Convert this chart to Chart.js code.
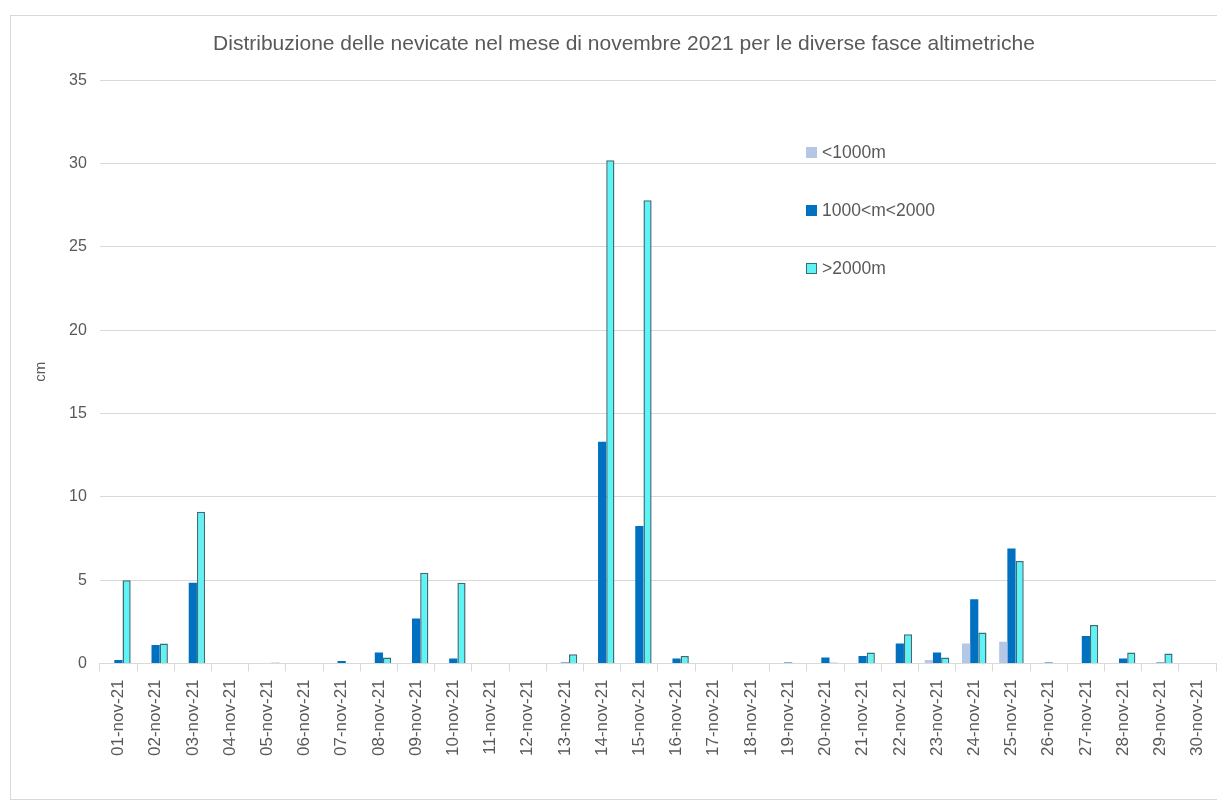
<!DOCTYPE html>
<html>
<head>
<meta charset="utf-8">
<script src="https://cdn.jsdelivr.net/npm/chart.js@4.4.1/dist/chart.umd.min.js"></script>
<style>
  html, body { margin: 0; padding: 0; background: #fff; }
  #frame {
    position: absolute; left: 10px; top: 15px; width: 1215px; height: 785px;
    border: 1px solid #d9d9d9; box-sizing: border-box;
  }
  #wrap { position: absolute; left: 0; top: 0; width: 1215px; height: 785px; }
  #legend {
    position: absolute; left: 795px; top: 126px;
    font-family: "Liberation Sans", Arial, sans-serif; font-size: 17.5px; color: #595959;
  }
  #legend .item { height: 58px; display: flex; align-items: flex-start; }
  #legend .box { width: 11px; height: 11px; margin: 5px 5px 0 0; box-sizing: border-box; }
</style>
</head>
<body>
<div id="frame">
  <div id="wrap"><canvas id="chart"></canvas></div>
  <div id="legend"></div>
</div>
<script>
const titleText = "Distribuzione delle nevicate nel mese di novembre 2021 per le diverse fasce altimetriche";
const days = [
  "01-nov-21", "02-nov-21", "03-nov-21", "04-nov-21", "05-nov-21", "06-nov-21",
  "07-nov-21", "08-nov-21", "09-nov-21", "10-nov-21", "11-nov-21", "12-nov-21",
  "13-nov-21", "14-nov-21", "15-nov-21", "16-nov-21", "17-nov-21", "18-nov-21",
  "19-nov-21", "20-nov-21", "21-nov-21", "22-nov-21", "23-nov-21", "24-nov-21",
  "25-nov-21", "26-nov-21", "27-nov-21", "28-nov-21", "29-nov-21", "30-nov-21"
];
const below1000 = [0, 0, 0, 0, 0, 0, 0, 0, 0, 0, 0, 0, 0, 0, 0, 0, 0, 0, 0, 0,
  0, 0, 0.2, 1.2, 1.3, 0, 0, 0, 0, 0];
const from1000to2000 = [0.2, 1.1, 4.85, 0, 0, 0, 0.15, 0.65, 2.7, 0.3, 0, 0, 0.05, 13.3, 8.25, 0.3, 0, 0, 0.05, 0.35,
  0.45, 1.2, 0.65, 3.85, 6.9, 0.05, 1.65, 0.3, 0.05, 0];
const above2000 = [5.0, 1.2, 9.1, 0, 0.05, 0, 0, 0.35, 5.45, 4.85, 0, 0, 0.55, 30.2, 27.8, 0.45, 0, 0, 0, 0.05,
  0.65, 1.75, 0.35, 1.85, 6.15, 0, 2.3, 0.65, 0.6, 0];
const yTicks = [0, 5, 10, 15, 20, 25, 30, 35];

const font = "'Liberation Sans', Arial, sans-serif";
const textColor = "#595959";

const datasets = [
  { label: "<1000m", data: below1000, backgroundColor: "#b4c7e7", borderColor: "#b4c7e7", borderWidth: 0 },
  { label: "1000<m<2000", data: from1000to2000, backgroundColor: "#0070c0", borderColor: "#0070c0", borderWidth: 0 },
  { label: ">2000m", data: above2000, backgroundColor: "#5ff3f5", borderColor: "#3a6f78", borderWidth: 1.5 }
];

const chart = new Chart(document.getElementById("chart"), {
  type: "bar",
  data: { labels: days, datasets },
  options: {
    responsive: true,
    maintainAspectRatio: false,
    animation: false,
    layout: { padding: { top: 14, right: 6, left: 17, bottom: 37 } },
    datasets: { bar: { categoryPercentage: 0.66, barPercentage: 1.0 } },
    plugins: {
      legend: { display: false },
      tooltip: { enabled: false },
      title: {
        display: true,
        text: titleText,
        color: textColor,
        font: { family: font, size: 21, weight: "normal" },
        padding: { top: 2, bottom: 23 }
      }
    },
    scales: {
      x: {
        grid: { display: true, drawOnChartArea: false, offset: true, color: "#d9d9d9", tickLength: 8 },
        border: { color: "#d9d9d9" },
        ticks: { color: textColor, font: { family: font, size: 17 }, minRotation: 90, maxRotation: 90, padding: 8 }
      },
      y: {
        min: 0,
        max: 35,
        afterBuildTicks: (axis) => { axis.ticks = yTicks.map(v => ({ value: v })); },
        grid: { color: "#d9d9d9", drawTicks: false },
        border: { display: false },
        ticks: { color: textColor, font: { family: font, size: 16 }, padding: 13 },
        title: { display: true, text: "cm", color: textColor, font: { family: font, size: 15 }, padding: { bottom: 6 } }
      }
    }
  }
});

// legend inside the plot, built from the datasets
const legendEl = document.getElementById("legend");
datasets.forEach(ds => {
  const item = document.createElement("div");
  item.className = "item";
  const box = document.createElement("span");
  box.className = "box";
  box.style.background = ds.backgroundColor;
  if (ds.borderWidth) box.style.border = "1px solid " + ds.borderColor;
  const label = document.createElement("span");
  label.textContent = ds.label;
  item.appendChild(box);
  item.appendChild(label);
  legendEl.appendChild(item);
});
</script>
</body>
</html>
